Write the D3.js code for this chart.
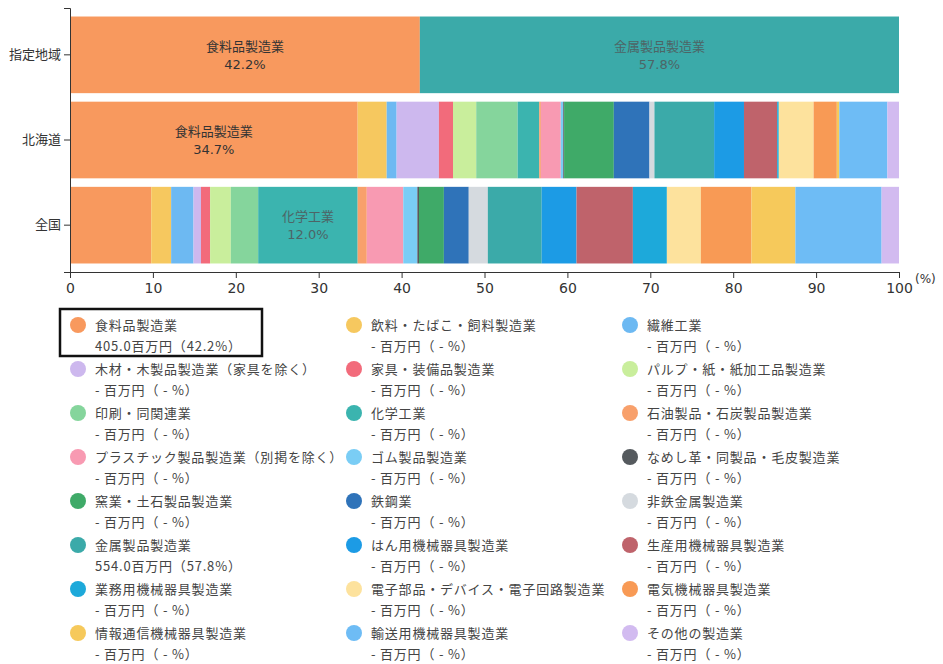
<!DOCTYPE html>
<html>
<head>
<meta charset="utf-8">
<script src="https://cdn.jsdelivr.net/npm/d3@7"></script>
<style>
  body { margin: 0; background: #fff; }
  svg text { font-family: "Noto Sans CJK JP", "DejaVu Sans", sans-serif; }
  .axis text { font-family: "DejaVu Sans", "Noto Sans CJK JP", sans-serif; font-size: 14px; fill: #333; }
  .axis.ylab text { font-family: "Noto Sans CJK JP", sans-serif; font-size: 13px; }
</style>
</head>
<body>
<div id="chart"></div>
<script>
var regions = ['指定地域', '北海道', '全国'];

var categories = [
  '食料品製造業', '飲料・たばこ・飼料製造業', '繊維工業',
  '木材・木製品製造業（家具を除く）', '家具・装備品製造業', 'パルプ・紙・紙加工品製造業',
  '印刷・同関連業', '化学工業', '石油製品・石炭製品製造業',
  'プラスチック製品製造業（別掲を除く）', 'ゴム製品製造業', 'なめし革・同製品・毛皮製造業',
  '窯業・土石製品製造業', '鉄鋼業', '非鉄金属製造業',
  '金属製品製造業', 'はん用機械器具製造業', '生産用機械器具製造業',
  '業務用機械器具製造業', '電子部品・デバイス・電子回路製造業', '電気機械器具製造業',
  '情報通信機械器具製造業', '輸送用機械器具製造業', 'その他の製造業'
];

var colors = [
  '#f8995e', '#f6c85f', '#6db9f2',
  '#cdb8ee', '#f26b7b', '#c9ee9c',
  '#85d59c', '#3bb4af', '#f8a06b',
  '#f89ab2', '#7acdf5', '#555a5e',
  '#3faa68', '#2f73b9', '#d5dadf',
  '#3baaa9', '#1c9be5', '#bf636b',
  '#1da9da', '#fde29d', '#f89a55',
  '#f6c95b', '#6ebcf5', '#d2bbf0'
];

// share (%) per category, same order as categories
var shareDesignated = [42.2, 0, 0, 0, 0, 0, 0, 0, 0, 0, 0, 0, 0, 0, 0, 57.8, 0, 0, 0, 0, 0, 0, 0, 0];
var shareHokkaido = [34.7, 3.5, 1.2, 5.1, 1.7, 2.8, 5.0, 2.6, 0.2, 2.4, 0.3, 0.1,
                     6.0, 4.3, 0.6, 7.2, 3.6, 4.0, 0.2, 4.2, 2.8, 0.3, 5.8, 1.4];
var shareNational = [9.8, 2.4, 2.7, 0.9, 1.1, 2.5, 3.3, 12.0, 1.1, 4.4, 1.7, 0.2,
                     3.0, 3.0, 2.3, 6.5, 4.2, 6.8, 4.1, 4.1, 6.1, 5.3, 10.4, 2.1];

// amount in the designated area (百万円), null = no data
var amountDesignated = [405.0, null, null, null, null, null, null, null, null, null, null, null,
                        null, null, null, 554.0, null, null, null, null, null, null, null, null];

var xTicks = [0, 10, 20, 30, 40, 50, 60, 70, 80, 90, 100];
var LABEL_MIN = 11; // segments below this share get no label

var W = 943, H = 664;
var svg = d3.select('#chart').append('svg')
  .attr('width', W).attr('height', H);

var x = d3.scaleLinear().domain([0, 100]).range([70, 899]);
var y = d3.scaleBand().domain(regions).range([8, 272]).paddingInner(0.1).paddingOuter(0.1);
var color = d3.scaleOrdinal().domain(categories).range(colors);

// build rows for stacking
var rows = [shareDesignated, shareHokkaido, shareNational].map(function (arr, r) {
  var o = { region: regions[r] };
  categories.forEach(function (c, i) { o[c] = arr[i]; });
  return o;
});
var series = d3.stack().keys(categories)(rows);

var g = svg.append('g');
series.forEach(function (s) {
  g.selectAll(null)
    .data(s)
    .enter().append('rect')
    .attr('x', function (d) { return x(d[0]); })
    .attr('y', function (d) { return y(d.data.region); })
    .attr('width', function (d) { return Math.max(0, x(d[1]) - x(d[0])); })
    .attr('height', y.bandwidth())
    .attr('fill', color(s.key));
});

// segment labels for the big segments
series.forEach(function (s) {
  s.forEach(function (d) {
    var v = d[1] - d[0];
    if (v < LABEL_MIN) return;
    var cx = (x(d[0]) + x(d[1])) / 2;
    var cy = y(d.data.region) + y.bandwidth() / 2;
    var fill = s.key === '食料品製造業' ? '#333' : '#4d6566';
    g.append('text')
      .attr('x', cx).attr('y', cy - 4)
      .attr('text-anchor', 'middle')
      .style('font-size', '13px').style('fill', fill)
      .text(s.key);
    g.append('text')
      .attr('x', cx).attr('y', cy + 14)
      .attr('text-anchor', 'middle')
      .style('font-family', '"DejaVu Sans", sans-serif')
      .style('font-size', '13px').style('fill', fill)
      .text(v.toFixed(1) + '%');
  });
});

// axes
var xAxis = svg.append('g').attr('class', 'axis')
  .attr('transform', 'translate(0,272)')
  .call(d3.axisBottom(x).tickValues(xTicks).tickSizeOuter(6));
xAxis.select('.domain').attr('stroke', '#333');
xAxis.selectAll('.tick line').attr('stroke', '#333');
xAxis.selectAll('.tick text').attr('dy', '0.85em');

var yAxis = svg.append('g').attr('class', 'axis ylab')
  .attr('transform', 'translate(70,0)')
  .call(d3.axisLeft(y).tickSizeOuter(6));
yAxis.select('.domain').attr('stroke', '#333');
yAxis.selectAll('.tick line').attr('stroke', '#333');

svg.append('text')
  .attr('x', 915).attr('y', 283)
  .style('font-family', '"DejaVu Sans", sans-serif')
  .style('font-size', '12px').style('fill', '#333')
  .text('(%)');

// legend
var lx = d3.scaleBand().domain([0, 1, 2]).range([70, 898]);
var ly = d3.scalePoint().domain(d3.range(8)).range([325, 633]);

var items = svg.append('g').selectAll('g')
  .data(categories)
  .enter().append('g')
  .attr('transform', function (d, i) { return 'translate(' + lx(i % 3) + ',' + ly(Math.floor(i / 3)) + ')'; });

items.append('circle')
  .attr('cx', 8).attr('cy', 0).attr('r', 8)
  .attr('fill', function (d) { return color(d); });

items.append('text')
  .attr('x', 25).attr('y', 4.5)
  .style('font-size', '13px').style('letter-spacing', '0.8px').style('fill', '#444')
  .text(function (d) { return d; });

items.append('text')
  .attr('x', 25).attr('y', 25.5)
  .style('font-size', '13px').style('letter-spacing', '0.8px').style('fill', '#444')
  .text(function (d, i) {
    var a = amountDesignated[i];
    if (a == null) return '- 百万円（ - %）';
    return a.toFixed(1) + '百万円（' + shareDesignated[i].toFixed(1) + '%）';
  });

// highlight box around first legend item
svg.append('rect')
  .attr('x', lx(0) - 10).attr('y', ly(0) - 16)
  .attr('width', 202).attr('height', 47)
  .attr('fill', 'none').attr('stroke', '#111').attr('stroke-width', 2.5);
</script>
</body>
</html>
